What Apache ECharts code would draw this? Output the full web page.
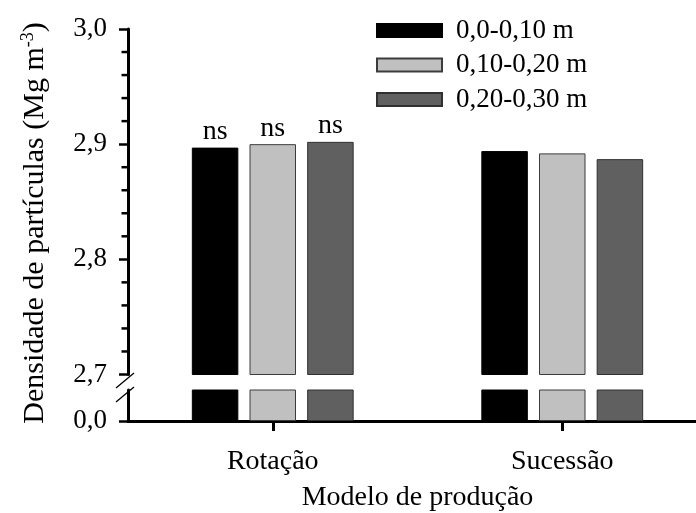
<!DOCTYPE html>
<html>
<head>
<meta charset="utf-8">
<script src="https://cdn.jsdelivr.net/npm/echarts@6/dist/echarts.min.js"></script>
<style>
  html, body { margin: 0; padding: 0; background: #fff; }
  #chart { width: 696px; height: 513px; }
</style>
</head>
<body>
<div id="chart"></div>
<script>
// Particle density by production model and soil depth
const categories = ['Rotação', 'Sucessão'];
const depthNames = ['0,0-0,10 m', '0,10-0,20 m', '0,20-0,30 m'];
const depth0010 = [2.897, 2.894];
const depth1020 = [2.900, 2.892];
const depth2030 = [2.902, 2.887];
const significance = ['ns', ''];
const lowerTicks = [0];
const minorTicks = [2.72, 2.74, 2.76, 2.78, 2.82, 2.84, 2.86, 2.88, 2.92, 2.94, 2.96, 2.98];

const seriesValues = [depth0010, depth1020, depth2030];
const fills = ['#000000', '#c0c0c0', '#606060'];
const strokes = ['#000000', '#3c3c3c', '#303030'];
const FONT = "'Liberation Serif', 'Times New Roman', serif";
const comma = v => String(Number(v).toFixed(1)).replace('.', ',');

const chart = echarts.init(document.getElementById('chart'), null, { renderer: 'canvas' });

const series = [];
seriesValues.forEach((vals, i) => {
  // upper panel (2.7 – 3.0)
  series.push({
    name: depthNames[i], type: 'bar', xAxisIndex: 0, yAxisIndex: 0,
    data: vals, barWidth: 46.5, barGap: '24%', clip: true,
    itemStyle: { color: fills[i], borderColor: strokes[i], borderWidth: 1 },
    label: {
      show: true, position: 'top', distance: 2,
      formatter: p => significance[p.dataIndex],
      fontFamily: FONT, fontSize: 28, color: '#000'
    },
    animation: false
  });
  // lower panel (stub starting at 0)
  series.push({
    name: depthNames[i], type: 'bar', xAxisIndex: 1, yAxisIndex: 1,
    data: vals, barWidth: 46.5, barGap: '24%', clip: true,
    itemStyle: { color: fills[i], borderColor: strokes[i], borderWidth: 1 },
    animation: false
  });
});

// short unlabelled ticks on the upper value axis, placed through its scale
series.push({
  type: 'custom', coordinateSystem: 'cartesian2d',
  xAxisIndex: 0, yAxisIndex: 0, silent: true, clip: false, z: 10,
  data: minorTicks.map(v => [0, v]),
  encode: { x: 0, y: 1 },
  renderItem: (params, api) => {
    const pt = api.coord([0, api.value(1)]);
    const band = api.size([1, 0])[0];
    const axisX = pt[0] - band / 2;
    return {
      type: 'rect',
      shape: { x: axisX - 6.5, y: pt[1] - 1.25, width: 7, height: 2.5 },
      style: { fill: '#000' }
    };
  },
  animation: false
});

const axisLine = { show: true, lineStyle: { color: '#000', width: 3 } };

chart.setOption({
  backgroundColor: '#fff',
  animation: false,
  grid: [
    { left: 128, width: 579, top: 29, height: 345.5, outerBoundsMode: 'none', containLabel: false },
    { left: 128, width: 579, top: 390, height: 31, outerBoundsMode: 'none', containLabel: false }
  ],
  legend: {
    orient: 'vertical', left: 371, top: 12,
    icon: 'rect',
    itemWidth: 65, itemHeight: 13, itemGap: 7.5,
    data: depthNames,
    textStyle: { fontFamily: FONT, fontSize: 27, color: '#000', lineHeight: 27, padding: [0, 0, 0, 9] }
  },
  xAxis: [
    { type: 'category', gridIndex: 0, data: categories, show: false },
    {
      type: 'category', gridIndex: 1, data: categories,
      axisLine: axisLine,
      axisTick: { show: true, alignWithLabel: true, length: 10, lineStyle: { color: '#000', width: 3 } },
      axisLabel: { fontFamily: FONT, fontSize: 28, color: '#000', margin: 27 },
      name: 'Modelo de produção', nameLocation: 'middle', nameGap: 63,
      nameTextStyle: { fontFamily: FONT, fontSize: 28, color: '#000' }
    }
  ],
  yAxis: [
    {
      // upper panel 2.7 – 3.0
      type: 'value', gridIndex: 0, position: 'left',
      min: 2.7, max: 3.0, interval: 0.1,
      axisLine: axisLine,
      axisTick: { show: true, length: 9, lineStyle: { color: '#000', width: 2.5 } },
      axisLabel: { show: true, fontFamily: FONT, fontSize: 27, color: '#000', margin: 21, formatter: comma },
      splitLine: { show: false }
    },
    {
      // lower panel: only the zero mark
      type: 'value', gridIndex: 1, position: 'left',
      min: 0, max: 1, interval: 1,
      axisLine: axisLine,
      axisTick: { show: true, length: 9, customValues: lowerTicks, lineStyle: { color: '#000', width: 2.5 } },
      axisLabel: { fontFamily: FONT, fontSize: 27, color: '#000', margin: 21, customValues: lowerTicks, formatter: comma },
      splitLine: { show: false }
    }
  ],
  graphic: [
    // axis break marks
    { type: 'line', shape: { x1: 116, y1: 388, x2: 134, y2: 373 }, style: { stroke: '#000', lineWidth: 1.3 }, z: 100 },
    { type: 'line', shape: { x1: 116, y1: 402, x2: 134, y2: 387 }, style: { stroke: '#000', lineWidth: 1.3 }, z: 100 },
    // y axis title with superscript unit
    {
      type: 'text', x: 35, y: 223, rotation: Math.PI / 2,
      style: {
        text: 'Densidade de partículas (Mg m{sup|-3})',
        fontFamily: FONT, fontSize: 30, fill: '#000',
        align: 'center', verticalAlign: 'middle',
        rich: { sup: { fontFamily: FONT, fontSize: 18, fill: '#000', verticalAlign: 'top', padding: [0, 0, 14, 0] } }
      }
    }
  ],
  series: series
});
</script>
</body>
</html>
